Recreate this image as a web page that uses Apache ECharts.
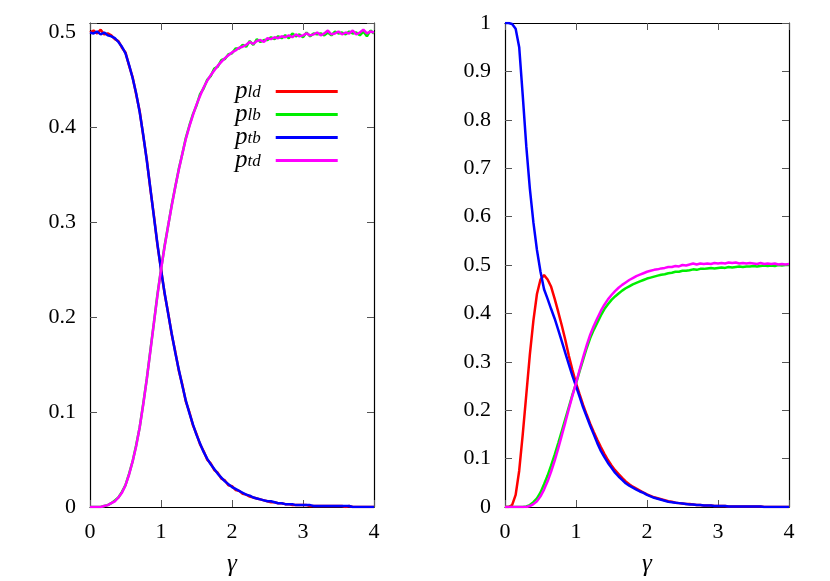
<!DOCTYPE html>
<html>
<head>
<meta charset="utf-8">
<script src="https://cdn.jsdelivr.net/npm/echarts@6/dist/echarts.min.js"></script>
<style>
  html, body { margin: 0; padding: 0; background: #fff; }
  #chart { width: 830px; height: 581px; }
</style>
</head>
<body>
<div id="chart"></div>
<script>
// sampled gamma values (shared by both panels)
var gamma = [
  0.00, 0.05, 0.10, 0.15, 0.20, 0.25, 0.30, 0.35, 0.40, 0.45,
  0.50, 0.55, 0.60, 0.65, 0.70, 0.75, 0.80, 0.85, 0.90, 0.95,
  1.00, 1.05, 1.10, 1.15, 1.20, 1.25, 1.30, 1.35, 1.40, 1.45,
  1.50, 1.55, 1.60, 1.65, 1.70, 1.75, 1.80, 1.85, 1.90, 1.95,
  2.00, 2.05, 2.10, 2.15, 2.20, 2.25, 2.30, 2.35, 2.40, 2.45,
  2.50, 2.55, 2.60, 2.65, 2.70, 2.75, 2.80, 2.85, 2.90, 2.95,
  3.00, 3.05, 3.10, 3.15, 3.20, 3.25, 3.30, 3.35, 3.40, 3.45,
  3.50, 3.55, 3.60, 3.65, 3.70, 3.75, 3.80, 3.85, 3.90, 3.95,
  4.00
];

// left panel
var ldLeft = [
  0.500, 0.502, 0.499, 0.503, 0.498, 0.499, 0.497, 0.493, 0.491, 0.484,
  0.479, 0.465, 0.453, 0.435, 0.417, 0.391, 0.366, 0.335, 0.307, 0.276,
  0.251, 0.225, 0.205, 0.182, 0.164, 0.144, 0.129, 0.111, 0.100, 0.086,
  0.077, 0.066, 0.059, 0.050, 0.046, 0.039, 0.036, 0.030, 0.028, 0.023,
  0.022, 0.018, 0.017, 0.014, 0.013, 0.011, 0.010, 0.009, 0.008, 0.007,
  0.006, 0.005, 0.005, 0.004, 0.004, 0.003, 0.003, 0.002, 0.002, 0.002,
  0.002, 0.002, 0.001, 0.001, 0.001, 0.001, 0.001, 0.001, 0.001, 0.001,
  0.001, 0.001, 0.000, 0.001, 0.000, 0.000, 0.000, 0.000, 0.000, 0.000,
  0.000
];
var lbLeft = [
  0.000, 0.000, 0.000, 0.000, 0.001, 0.002, 0.004, 0.007, 0.010, 0.016,
  0.023, 0.035, 0.048, 0.065, 0.084, 0.109, 0.135, 0.165, 0.194, 0.224,
  0.250, 0.275, 0.296, 0.318, 0.337, 0.356, 0.372, 0.389, 0.402, 0.414,
  0.423, 0.435, 0.441, 0.450, 0.454, 0.462, 0.464, 0.471, 0.472, 0.477,
  0.478, 0.483, 0.483, 0.487, 0.485, 0.491, 0.487, 0.493, 0.490, 0.492,
  0.492, 0.495, 0.493, 0.496, 0.494, 0.497, 0.494, 0.499, 0.496, 0.498,
  0.495, 0.500, 0.496, 0.499, 0.498, 0.499, 0.497, 0.500, 0.497, 0.501,
  0.499, 0.500, 0.498, 0.501, 0.499, 0.500, 0.497, 0.501, 0.496, 0.502,
  0.499
];
var tbLeft = [
  0.500, 0.499, 0.501, 0.498, 0.500, 0.497, 0.496, 0.494, 0.490, 0.485,
  0.478, 0.466, 0.452, 0.436, 0.416, 0.392, 0.365, 0.336, 0.306, 0.277,
  0.250, 0.226, 0.204, 0.183, 0.163, 0.145, 0.128, 0.112, 0.099, 0.087,
  0.076, 0.067, 0.058, 0.051, 0.045, 0.040, 0.035, 0.031, 0.027, 0.024,
  0.021, 0.019, 0.017, 0.015, 0.013, 0.012, 0.010, 0.009, 0.008, 0.007,
  0.006, 0.006, 0.005, 0.004, 0.004, 0.003, 0.003, 0.003, 0.002, 0.002,
  0.002, 0.002, 0.002, 0.001, 0.001, 0.001, 0.001, 0.001, 0.001, 0.001,
  0.001, 0.001, 0.001, 0.001, 0.000, 0.000, 0.000, 0.000, 0.000, 0.000,
  0.000
];
var tdLeft = [
  0.000, 0.000, 0.000, 0.000, 0.001, 0.002, 0.004, 0.006, 0.010, 0.015,
  0.023, 0.034, 0.048, 0.064, 0.084, 0.108, 0.135, 0.164, 0.194, 0.223,
  0.250, 0.274, 0.296, 0.317, 0.337, 0.355, 0.372, 0.388, 0.401, 0.413,
  0.424, 0.433, 0.442, 0.449, 0.455, 0.460, 0.465, 0.469, 0.473, 0.476,
  0.479, 0.481, 0.484, 0.485, 0.487, 0.490, 0.488, 0.491, 0.492, 0.490,
  0.494, 0.493, 0.495, 0.494, 0.496, 0.495, 0.497, 0.495, 0.498, 0.496,
  0.497, 0.499, 0.497, 0.498, 0.500, 0.497, 0.499, 0.502, 0.498, 0.499,
  0.501, 0.498, 0.500, 0.499, 0.502, 0.498, 0.500, 0.503, 0.499, 0.501,
  0.500
];

// right panel
var ldRight = [
  0.000, 0.000, 0.004, 0.025, 0.075, 0.150, 0.232, 0.315, 0.385, 0.440,
  0.470, 0.479, 0.470, 0.455, 0.430, 0.403, 0.375, 0.345, 0.312, 0.283,
  0.256, 0.233, 0.211, 0.191, 0.172, 0.155, 0.139, 0.124, 0.110, 0.097,
  0.086, 0.076, 0.068, 0.060, 0.053, 0.047, 0.042, 0.038, 0.034, 0.030,
  0.026, 0.023, 0.020, 0.018, 0.016, 0.014, 0.012, 0.011, 0.009, 0.008,
  0.007, 0.006, 0.006, 0.005, 0.004, 0.004, 0.003, 0.003, 0.003, 0.002,
  0.002, 0.002, 0.002, 0.001, 0.001, 0.001, 0.001, 0.001, 0.001, 0.001,
  0.001, 0.001, 0.001, 0.000, 0.000, 0.000, 0.000, 0.000, 0.000, 0.000,
  0.000
];
var lbRight = [
  0.000, 0.000, 0.000, 0.000, 0.000, 0.000, 0.001, 0.004, 0.010, 0.018,
  0.030, 0.047, 0.065, 0.086, 0.108, 0.132, 0.157, 0.182, 0.207, 0.232,
  0.255, 0.280, 0.304, 0.328, 0.349, 0.366, 0.381, 0.396, 0.409, 0.419,
  0.428, 0.435, 0.441, 0.447, 0.452, 0.456, 0.460, 0.463, 0.466, 0.469,
  0.472, 0.474, 0.476, 0.478, 0.480, 0.481, 0.483, 0.484, 0.486, 0.486,
  0.488, 0.488, 0.489, 0.491, 0.490, 0.492, 0.492, 0.493, 0.494, 0.493,
  0.494, 0.495, 0.494, 0.496, 0.495, 0.496, 0.497, 0.496, 0.497, 0.497,
  0.498, 0.497, 0.498, 0.499, 0.498, 0.499, 0.498, 0.500, 0.499, 0.500,
  0.500
];
var tbRight = [
  1.000, 1.000, 0.998, 0.988, 0.950, 0.850, 0.745, 0.658, 0.588, 0.531,
  0.486, 0.450, 0.430, 0.409, 0.389, 0.366, 0.342, 0.318, 0.294, 0.271,
  0.250, 0.228, 0.206, 0.187, 0.168, 0.150, 0.132, 0.116, 0.103, 0.091,
  0.081, 0.071, 0.063, 0.056, 0.049, 0.044, 0.040, 0.036, 0.032, 0.029,
  0.025, 0.022, 0.019, 0.017, 0.015, 0.013, 0.011, 0.010, 0.009, 0.008,
  0.007, 0.006, 0.005, 0.005, 0.004, 0.004, 0.003, 0.003, 0.003, 0.002,
  0.002, 0.002, 0.002, 0.001, 0.001, 0.001, 0.001, 0.001, 0.001, 0.001,
  0.001, 0.001, 0.001, 0.000, 0.000, 0.000, 0.000, 0.000, 0.000, 0.000,
  0.000
];
var tdRight = [
  0.000, 0.000, 0.000, 0.000, 0.000, 0.000, 0.000, 0.002, 0.006, 0.012,
  0.022, 0.036, 0.053, 0.073, 0.096, 0.121, 0.148, 0.175, 0.203, 0.230,
  0.256, 0.283, 0.309, 0.334, 0.356, 0.374, 0.390, 0.405, 0.418, 0.429,
  0.438, 0.446, 0.453, 0.459, 0.464, 0.469, 0.473, 0.477, 0.480, 0.483,
  0.486, 0.488, 0.490, 0.491, 0.493, 0.494, 0.496, 0.496, 0.498, 0.497,
  0.500, 0.499, 0.501, 0.503, 0.501, 0.503, 0.502, 0.503, 0.502, 0.504,
  0.503, 0.504, 0.503, 0.505, 0.504, 0.505, 0.503, 0.504, 0.503, 0.504,
  0.503, 0.502, 0.504, 0.502, 0.503, 0.502, 0.503, 0.501, 0.502, 0.501,
  0.502
];

var seriesNames = ["ld", "lb", "tb", "td"];
var seriesColors = ["#ff0000", "#00ee00", "#0000ff", "#ff00ff"];

var serif = "'Liberation Serif', 'DejaVu Serif', serif";

function pairs(ys) {
  return gamma.map(function (g, i) {
    return [g, ys[i]];
  });
}

function tickLabel(v) {
  var r = Math.round(v * 10);
  if (Math.abs(v * 10 - r) > 1e-6) return "";
  return String(r / 10);
}

function xAxisFor(grid, pos) {
  var bottom = pos === "bottom";
  return {
    gridIndex: grid,
    type: "value",
    position: pos,
    min: 0,
    max: 4,
    interval: 1,
    axisLine: { show: true, onZero: false, lineStyle: { color: "#000", width: 1.2 } },
    axisTick: { show: true, inside: true, length: 7, lineStyle: { color: "#555" } },
    axisLabel: {
      show: bottom,
      margin: 14,
      fontFamily: serif,
      fontSize: 22,
      color: "#000"
    },
    splitLine: { show: false },
    name: bottom ? "γ" : "",
    nameLocation: "middle",
    nameGap: 45,
    nameTextStyle: { fontFamily: serif, fontStyle: "italic", fontSize: 25, color: "#000" }
  };
}

function yAxisFor(grid, pos, max) {
  var left = pos === "left";
  return {
    gridIndex: grid,
    type: "value",
    position: pos,
    min: 0,
    max: max,
    interval: 0.1,
    axisLine: { show: true, onZero: false, lineStyle: { color: "#000", width: 1.2 } },
    axisTick: { show: true, inside: true, length: 7, lineStyle: { color: "#555" } },
    axisLabel: {
      show: left,
      margin: 14,
      fontFamily: serif,
      fontSize: 22,
      color: "#000",
      formatter: tickLabel
    },
    splitLine: { show: false }
  };
}

function panelSeries(axisIndex, data) {
  return data.map(function (ys, i) {
    return {
      name: seriesNames[i],
      type: "line",
      xAxisIndex: axisIndex,
      yAxisIndex: axisIndex,
      data: pairs(ys),
      showSymbol: false,
      symbol: "none",
      lineStyle: { width: 2.5, color: seriesColors[i] },
      itemStyle: { color: seriesColors[i] },
      z: 2 + i
    };
  });
}

var myChart = echarts.init(document.getElementById("chart"));
var option = {
  animation: false,
  backgroundColor: "#fff",
  grid: [
    { left: 90, right: 456, top: 23, bottom: 74, outerBoundsMode: "none" },
    { left: 505, right: 41, top: 23, bottom: 74, outerBoundsMode: "none" }
  ],
  xAxis: [
    xAxisFor(0, "bottom"),
    xAxisFor(0, "top"),
    xAxisFor(1, "bottom"),
    xAxisFor(1, "top")
  ],
  yAxis: [
    yAxisFor(0, "left", 0.51),
    yAxisFor(0, "right", 0.51),
    yAxisFor(1, "left", 1),
    yAxisFor(1, "right", 1)
  ],
  legend: {
    data: seriesNames,
    orient: "vertical",
    left: 230,
    top: 74,
    align: "right",
    icon: "rect",
    itemWidth: 62,
    itemHeight: 3,
    itemGap: -2,
    selectedMode: false,
    formatter: function (name) {
      return "{p|p}{s|" + name + "}";
    },
    textStyle: {
      rich: {
        p: { fontFamily: serif, fontStyle: "italic", fontSize: 25, lineHeight: 20, color: "#000" },
        s: {
          fontFamily: serif,
          fontStyle: "italic",
          fontSize: 17,
          lineHeight: 6,
          verticalAlign: "bottom",
          padding: [0, 10, 0, 0],
          color: "#000"
        }
      }
    }
  },
  series: panelSeries(0, [ldLeft, lbLeft, tbLeft, tdLeft]).concat(
    panelSeries(2, [ldRight, lbRight, tbRight, tdRight])
  )
};
myChart.setOption(option);
</script>
</body>
</html>
